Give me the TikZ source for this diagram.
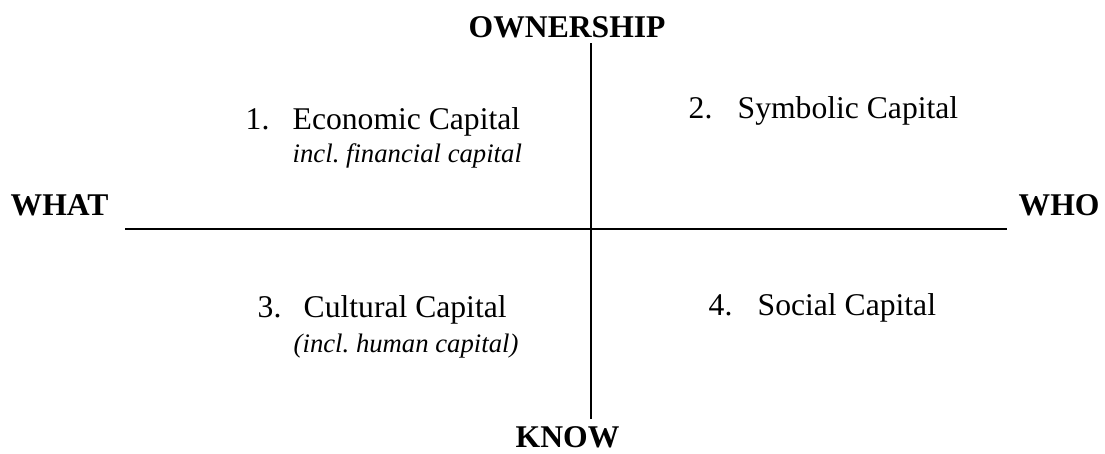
\documentclass[tikz,border=0pt]{standalone}
\usepackage{fontspec}
\setmainfont{Liberation Serif}
\usepackage{tikz}
\frenchspacing

\begin{document}
\begin{tikzpicture}[x=0.02cm,y=-0.02cm,line width=0.8pt,
        every node/.style={inner sep=0pt,anchor=base west},
        axis/.style={font=\fontsize{18}{22}\selectfont\bfseries},
        capital/.style={font=\fontsize{18}{22}\selectfont},
        incl/.style={font=\fontsize{15.2}{18}\selectfont\itshape}]

  \useasboundingbox (0,0) rectangle (1105,453);

  \node[axis] (own)  at (468,37)  {OWNERSHIP};
  \node[axis] (what) at (10,215)  {WHAT};
  \node[axis] (who)  at (1018,215) {WHO};
  \node[axis] (know) at (515,447) {KNOW};

  \coordinate (top)    at (591,43);
  \coordinate (bottom) at (591,419);
  \coordinate (left)   at (125,229);
  \coordinate (right)  at (1007,229);

  \draw (top) -- (bottom);
  \draw (left) -- (right);

  \node[capital] (n1) at (245,129) {1.};
  \node[capital] (c1) at (292,129) {Economic Capital};
  \node[incl] (i1) at (292,162) {incl. financial capital};

  \node[capital] (n2) at (688,118) {2.};
  \node[capital] (c2) at (737,118) {Symbolic Capital};

  \node[capital] (n3) at (257,317) {3.};
  \node[capital] (c3) at (303,317) {Cultural Capital};
  \node[incl] (i3) at (293,352) {(incl. human capital)};

  \node[capital] (n4) at (708,315) {4.};
  \node[capital] (c4) at (757,315) {Social Capital};

\end{tikzpicture}
\end{document}
